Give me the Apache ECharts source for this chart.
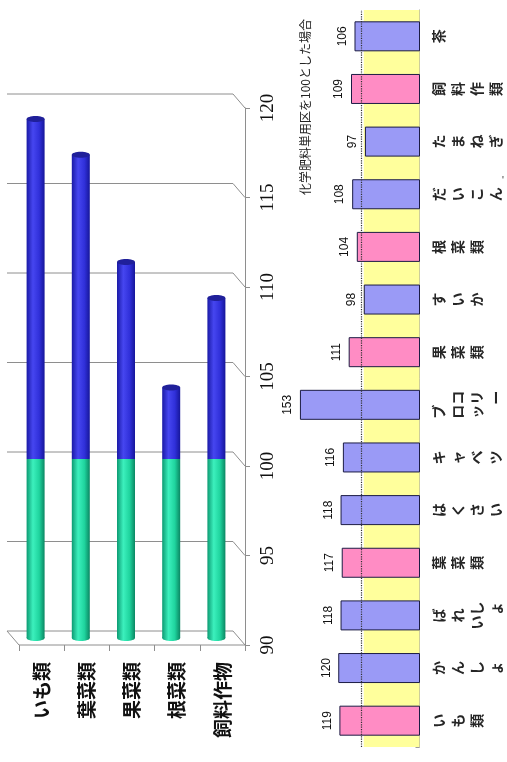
<!DOCTYPE html>
<html>
<head>
<meta charset="utf-8">
<script src="https://cdn.jsdelivr.net/npm/echarts@6/dist/echarts.min.js"></script>
<style>
  html, body { margin: 0; padding: 0; background: #ffffff; }
  #chart { width: 507px; height: 762px; }
</style>
</head>
<body>
<div id="chart"></div>
<script>
// ---- Left chart: yield index by crop group (chemical fertilizer only = 100) ----
const groupNames = ['いも類', '葉菜類', '果菜類', '根菜類', '飼料作物'];
const groupBase = [100, 100, 100, 100, 100];
const groupIndex = [119, 117, 111, 104, 109];
const indexTicks = [90, 95, 100, 105, 110, 115, 120];

// ---- Right chart: yield index by crop ----
const cropNames = ['いも類', 'かんしょ', 'ばれいしょ', '葉菜類', 'はくさい', 'キャベツ', 'ブロッコリー',
  '果菜類', 'すいか', '根菜類', 'だいこん', 'たまねぎ', '飼料作類', '茶'];
const cropIndex = [119, 120, 118, 117, 118, 116, 153, 111, 98, 104, 108, 97, 109, 106];
const cropIsGroup = [true, false, false, true, false, false, false, true, false, true, false, false, true, false];
// vertical (tategaki) layout of the longer names: one string per row, second column to its right
const cropLabelLines = {
  'ばれいしょ': ['ば', 'れ', 'いし', '　ょ'],
  'ブロッコリー': ['ブ　', 'ロコ', 'ッリ', '　ー']
};
const chartNote = '化学肥料単用区を100とした場合';

const chart = echarts.init(document.getElementById('chart'), null, { renderer: 'canvas' });

// depth offset of the 3D box and of the cylinders inside it
const DEPTH = [-12, -14];
const BAR_SHIFT = [-6, -7];
const CYL_W = 18;
const CROP_AXIS_MIN = 50;

function greenGrad() {
  return new echarts.graphic.LinearGradient(0, 0, 1, 0, [
    { offset: 0, color: '#0c9a72' },
    { offset: 0.35, color: '#3cf0bd' },
    { offset: 0.7, color: '#1fd49e' },
    { offset: 1, color: '#0b8662' }
  ]);
}
function blueGrad() {
  return new echarts.graphic.LinearGradient(0, 0, 1, 0, [
    { offset: 0, color: '#1a1aa6' },
    { offset: 0.35, color: '#4646f0' },
    { offset: 0.7, color: '#3030da' },
    { offset: 1, color: '#16169a' }
  ]);
}

// back-wall grid lines and floor of the 3D box
function renderBox(params, api) {
  const cs = params.coordSys;
  const v = api.value(1);
  const y = api.coord([0, v])[1];
  const xL = cs.x, xR = cs.x + cs.width;
  const style = { stroke: '#8e8e8e', lineWidth: 1, fill: null };
  const children = [{
    type: 'polyline',
    shape: { points: [[xL + DEPTH[0], y + DEPTH[1]], [xR + DEPTH[0], y + DEPTH[1]], [xR, y]] },
    style: style
  }];
  if (v === indexTicks[0]) {
    children.push({
      type: 'polyline',
      shape: { points: [[xL + DEPTH[0], y + DEPTH[1]], [xL, y], [xR, y]] },
      style: style
    });
  }
  return { type: 'group', children: children };
}

// cylinders: green from axis floor up to the base value, blue from base to index
function renderCylinder(params, api) {
  const i = api.value(0);
  const v = api.value(1);
  const b = api.value(2);
  const pBot = api.coord([i, indexTicks[0]]);
  const pBase = api.coord([i, b]);
  const pTop = api.coord([i, v]);
  const cx = pBot[0] + BAR_SHIFT[0];
  const x0 = cx - CYL_W / 2;
  const yBot = pBot[1] + BAR_SHIFT[1];
  const yBase = pBase[1] + BAR_SHIFT[1];
  const yTop = pTop[1] + BAR_SHIFT[1];
  return {
    type: 'group',
    children: [
      { type: 'ellipse', shape: { cx: cx, cy: yBot, rx: CYL_W / 2, ry: 3 }, style: { fill: greenGrad() } },
      { type: 'rect', shape: { x: x0, y: yBase, width: CYL_W, height: yBot - yBase }, style: { fill: greenGrad() } },
      { type: 'rect', shape: { x: x0, y: yTop, width: CYL_W, height: yBase - yTop }, style: { fill: blueGrad() } },
      { type: 'ellipse', shape: { cx: cx, cy: yTop, rx: CYL_W / 2, ry: 3 }, style: { fill: '#20209a' } }
    ]
  };
}

// crop names written top-to-bottom under each bar, turned with the page:
// each glyph is its own turned text so rows run to the right
const NAME_STEP = 19;   // distance between rows
const NAME_GLYPH = 14;  // distance between the two columns
function renderCropName(params, api) {
  const i = api.value(1);
  const p = api.coord([CROP_AXIS_MIN, i]);
  const name = cropNames[i];
  const rows = cropLabelLines[name] || name.split('');
  const children = [];
  rows.forEach(function (row, r) {
    const chars = row.split('');
    chars.forEach(function (ch, c) {
      if (ch === '　') return;
      const off = (c - (chars.length - 1) / 2) * NAME_GLYPH;
      children.push({
        type: 'text',
        x: p[0] + 19 + r * NAME_STEP,
        y: p[1] - off,
        rotation: Math.PI / 2,
        style: {
          text: ch,
          fontSize: 14,
          fontWeight: 'bold',
          fill: '#262626',
          fontFamily: 'Noto Sans CJK JP',
          align: 'center', verticalAlign: 'middle'
        }
      });
    });
  });
  return { type: 'group', children: children };
}

const option = {
  animation: false,
  backgroundColor: '#ffffff',
  grid: [
    { left: 19, right: 262, top: 108, bottom: 117 },
    { left: 291.8, right: 87.5, top: 10, bottom: 15 }
  ],
  xAxis: [
    {
      gridIndex: 0,
      type: 'category',
      data: groupNames,
      axisLine: { show: false },
      axisTick: { show: true, length: 6, lineStyle: { color: '#8e8e8e' } },
      axisLabel: {
        rotate: 90, margin: 17, fontSize: 19, color: '#111',
        fontFamily: 'Noto Sans CJK JP', fontWeight: 'bold'
      }
    },
    {
      gridIndex: 1,
      type: 'value',
      min: CROP_AXIS_MIN, max: 160,
      inverse: true,
      show: false,
      splitLine: { show: false }
    }
  ],
  yAxis: [
    {
      gridIndex: 0,
      type: 'value',
      position: 'right',
      min: indexTicks[0], max: indexTicks[indexTicks.length - 1], interval: 5,
      axisLine: { show: true, lineStyle: { color: '#8e8e8e' } },
      axisTick: { show: true, length: 5, lineStyle: { color: '#8e8e8e' } },
      splitLine: { show: false },
      axisLabel: {
        rotate: 90, margin: 14, fontSize: 19, color: '#111',
        fontFamily: 'Liberation Serif'
      }
    },
    {
      gridIndex: 1,
      type: 'category',
      position: 'right',
      data: cropNames,
      axisLine: { show: true, lineStyle: { color: '#9a9a9a' } },
      axisTick: { show: true, inside: true, length: 4, lineStyle: { color: '#9a9a9a' } },
      axisLabel: { show: false }
    }
  ],
  series: [
    {
      type: 'custom',
      xAxisIndex: 0, yAxisIndex: 0,
      z: 1,
      silent: true,
      renderItem: renderBox,
      data: indexTicks.map(function (t) { return [0, t]; }),
      clip: false
    },
    {
      type: 'custom',
      xAxisIndex: 0, yAxisIndex: 0,
      z: 3,
      renderItem: renderCylinder,
      data: groupNames.map(function (n, i) { return [i, groupIndex[i], groupBase[i]]; }),
      clip: false
    },
    {
      type: 'bar',
      xAxisIndex: 1, yAxisIndex: 1,
      barWidth: 30,
      data: cropIndex.map(function (v, i) {
        return {
          value: v,
          itemStyle: { color: cropIsGroup[i] ? '#ff8cc4' : '#9a9af6' }
        };
      }),
      itemStyle: { borderColor: '#1c1c44', borderWidth: 1 },
      label: {
        show: true, position: 'left', distance: 6, rotate: 90,
        align: 'center', verticalAlign: 'bottom',
        fontSize: 12, color: '#111', fontFamily: 'Liberation Sans'
      },
      markArea: {
        silent: true,
        itemStyle: { color: '#ffff9c' },
        data: [[{ xAxis: CROP_AXIS_MIN }, { xAxis: 98 }]]
      },
      markLine: {
        silent: true,
        symbol: 'none',
        label: { show: false },
        lineStyle: { type: 'dotted', color: '#333', width: 1.2 },
        data: [{ xAxis: 100 }]
      }
    },
    {
      type: 'custom',
      xAxisIndex: 1, yAxisIndex: 1,
      silent: true,
      clip: false,
      renderItem: renderCropName,
      data: cropNames.map(function (n, i) { return [CROP_AXIS_MIN, i]; })
    }
  ],
  graphic: [
    {
      type: 'text',
      x: 305, y: 107,
      rotation: Math.PI / 2,
      style: {
        text: chartNote,
        fontSize: 12, fill: '#222',
        fontFamily: 'Noto Sans CJK JP',
        align: 'center', verticalAlign: 'middle'
      }
    },
    {
      type: 'text',
      x: 502, y: 176,
      style: { text: '\'', fontSize: 10, fill: '#333', fontFamily: 'Liberation Sans' }
    }
  ]
};

chart.setOption(option);
</script>
</body>
</html>
